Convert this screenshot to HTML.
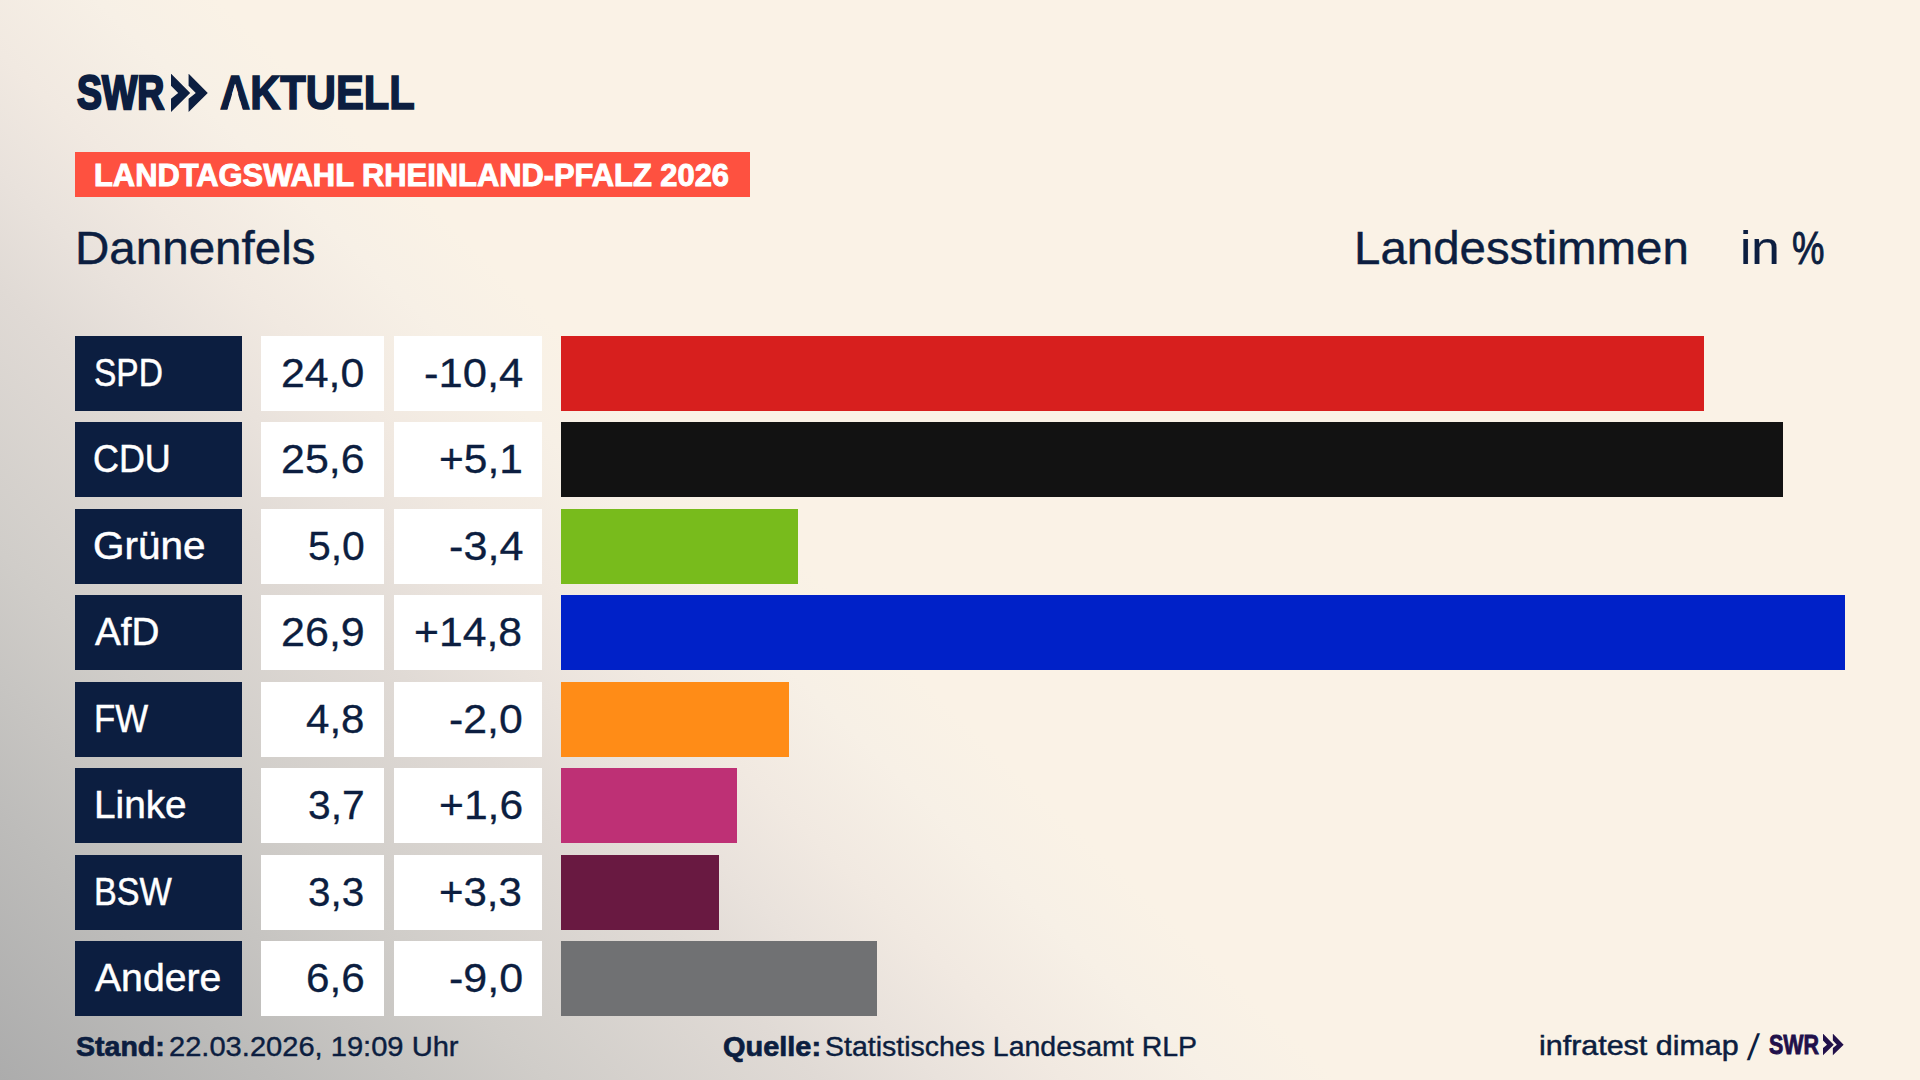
<!DOCTYPE html>
<html lang="de">
<head>
<meta charset="utf-8">
<title>SWR Aktuell – Landtagswahl Rheinland-Pfalz 2026 – Dannenfels</title>
<style>
html,body{margin:0;padding:0;}
body{width:1920px;height:1080px;overflow:hidden;position:relative;
  font-family:"Liberation Sans",sans-serif;color:#0c1e40;
  background:#faf2e6;}
#bg{position:absolute;left:0;top:0;width:1920px;height:1080px;
  background:linear-gradient(44deg,#acacac 0%,#bdbcba 9%,#d0cdc9 18%,#e0dad5 27%,#e9e2dc 31%,#f1e9e1 35%,#f7f0e6 40%,#faf2e6 44%,#faf2e6 100%);}
.t{position:absolute;white-space:nowrap;line-height:1;transform-origin:0 0;display:block;margin:0;font-weight:400;}
.box{position:absolute;}
.row{position:absolute;left:75px;width:1770px;height:75px;}
.cell{position:absolute;top:0;height:75px;}
.lab{left:0;width:167px;background:#0c1e40;}
.val{left:186px;width:123px;background:#fff;}
.dif{left:319px;width:148px;background:#fff;}
.bar{left:486px;}
</style>
</head>
<body>
<div id="bg"></div>

<header>
<div id="logo">
<span class="t" style="left:76.81px;top:67.60px;font-size:48.26px;transform:scaleX(0.7756);color:#0c1e40;font-weight:700;-webkit-text-stroke:2.4px #0c1e40;">SWR</span>
<svg class="box" style="left:171.1px;top:73.65px" width="37.8" height="38.0" viewBox="0 0 37.8 38.0"><path d="M0.00 0 L0.35 0 L19.19 19.00 L0.00 38.00 L0.00 24.78 L7.18 19.00 L0.00 11.78 Z M17.59 0 L17.94 0 L36.78 19.00 L17.59 38.00 L17.59 24.78 L24.78 19.00 L17.59 11.78 Z" fill="#0c1e40"/></svg>
<span class="t" style="left:219.75px;top:68.10px;font-size:48.11px;transform:scaleX(0.8680);color:#0c1e40;font-weight:700;-webkit-text-stroke:1.6px #0c1e40;clip-path:polygon(-3px -3px,400px -3px,400px 51.11px,27.04px 44.85px,17.37px 15.72px,7.64px 44.85px,-3px 51.11px);">AKTUELL</span>
</div>
<div class="box" id="banner" style="left:75px;top:152.3px;width:674.8px;height:44.3px;background:#fe5140"></div>
<h1 class="t" style="left:94.08px;top:159.50px;font-size:31.83px;transform:scaleX(0.9696);color:#fff;font-weight:700;-webkit-text-stroke:1.0px #fff;">LANDTAGSWAHL RHEINLAND-PFALZ 2026</h1>
<h2 class="t" style="left:75.20px;top:225.50px;font-size:45.4px;transform:scaleX(1.0476);color:#0c1e40;-webkit-text-stroke:0.4px #0c1e40;">Dannenfels</h2>
<span class="t" style="left:1354.16px;top:225.50px;font-size:45.4px;transform:scaleX(1.0450);color:#0c1e40;-webkit-text-stroke:0.4px #0c1e40;">Landesstimmen</span>
<span class="t" style="left:1739.78px;top:225.50px;font-size:45.4px;transform:scaleX(1.1278);color:#0c1e40;-webkit-text-stroke:0.2px #0c1e40;">in</span>
<span class="t" style="left:1792.18px;top:225.50px;font-size:45.4px;transform:scaleX(0.8039);color:#0c1e40;-webkit-text-stroke:0.9px #0c1e40;">%</span>
</header>
<main id="chart">
<div class="row" id="row1" style="top:336px">
<div class="cell lab"><span class="t" style="left:18.71px;top:18.30px;font-size:38.8px;transform:scaleX(0.8639);color:#fff;-webkit-text-stroke:0.5px #fff;">SPD</span></div>
<div class="cell val"><span class="t" style="left:20.32px;top:17.20px;font-size:40.1px;transform:scaleX(1.0683);color:#0c1e40;-webkit-text-stroke:0.3px #0c1e40;">24,0</span></div>
<div class="cell dif"><span class="t" style="left:29.50px;top:17.20px;font-size:40.1px;transform:scaleX(1.0866);color:#0c1e40;-webkit-text-stroke:0.3px #0c1e40;">-10,4</span></div>
<div class="cell bar" style="width:1142.7px;background:#d71f1e"></div>
</div>
<div class="row" id="row2" style="top:422px">
<div class="cell lab"><span class="t" style="left:18.44px;top:18.30px;font-size:38.8px;transform:scaleX(0.9253);color:#fff;-webkit-text-stroke:0.5px #fff;">CDU</span></div>
<div class="cell val"><span class="t" style="left:20.31px;top:17.20px;font-size:40.1px;transform:scaleX(1.0712);color:#0c1e40;-webkit-text-stroke:0.3px #0c1e40;">25,6</span></div>
<div class="cell dif"><span class="t" style="left:44.53px;top:17.20px;font-size:40.1px;transform:scaleX(1.0609);color:#0c1e40;-webkit-text-stroke:0.3px #0c1e40;">+5,1</span></div>
<div class="cell bar" style="width:1221.7px;background:#121212"></div>
</div>
<div class="row" id="row3" style="top:509px">
<div class="cell lab"><span class="t" style="left:18.24px;top:18.30px;font-size:38.8px;transform:scaleX(1.0432);color:#fff;-webkit-text-stroke:0.5px #fff;">Grüne</span></div>
<div class="cell val"><span class="t" style="left:46.72px;top:17.20px;font-size:40.1px;transform:scaleX(1.0201);color:#0c1e40;-webkit-text-stroke:0.3px #0c1e40;">5,0</span></div>
<div class="cell dif"><span class="t" style="left:54.52px;top:17.20px;font-size:40.1px;transform:scaleX(1.0775);color:#0c1e40;-webkit-text-stroke:0.3px #0c1e40;">-3,4</span></div>
<div class="cell bar" style="width:237.0px;background:#78bb1c"></div>
</div>
<div class="row" id="row4" style="top:595px">
<div class="cell lab"><span class="t" style="left:19.95px;top:18.30px;font-size:38.8px;transform:scaleX(0.9960);color:#fff;-webkit-text-stroke:0.5px #fff;">AfD</span></div>
<div class="cell val"><span class="t" style="left:20.31px;top:17.20px;font-size:40.1px;transform:scaleX(1.0740);color:#0c1e40;-webkit-text-stroke:0.3px #0c1e40;">26,9</span></div>
<div class="cell dif"><span class="t" style="left:19.82px;top:17.20px;font-size:40.1px;transform:scaleX(1.0658);color:#0c1e40;-webkit-text-stroke:0.3px #0c1e40;">+14,8</span></div>
<div class="cell bar" style="width:1283.7px;background:#0021c8"></div>
</div>
<div class="row" id="row5" style="top:682px">
<div class="cell lab"><span class="t" style="left:19.14px;top:18.30px;font-size:38.8px;transform:scaleX(0.8968);color:#fff;-webkit-text-stroke:0.5px #fff;">FW</span></div>
<div class="cell val"><span class="t" style="left:45.02px;top:17.20px;font-size:40.1px;transform:scaleX(1.0497);color:#0c1e40;-webkit-text-stroke:0.3px #0c1e40;">4,8</span></div>
<div class="cell dif"><span class="t" style="left:54.53px;top:17.20px;font-size:40.1px;transform:scaleX(1.0671);color:#0c1e40;-webkit-text-stroke:0.3px #0c1e40;">-2,0</span></div>
<div class="cell bar" style="width:228.0px;background:#ff8c17"></div>
</div>
<div class="row" id="row6" style="top:768px">
<div class="cell lab"><span class="t" style="left:18.85px;top:18.30px;font-size:38.8px;transform:scaleX(0.9991);color:#fff;-webkit-text-stroke:0.5px #fff;">Linke</span></div>
<div class="cell val"><span class="t" style="left:46.72px;top:17.20px;font-size:40.1px;transform:scaleX(1.0166);color:#0c1e40;-webkit-text-stroke:0.3px #0c1e40;">3,7</span></div>
<div class="cell dif"><span class="t" style="left:44.53px;top:17.20px;font-size:40.1px;transform:scaleX(1.0634);color:#0c1e40;-webkit-text-stroke:0.3px #0c1e40;">+1,6</span></div>
<div class="cell bar" style="width:176.0px;background:#be3075"></div>
</div>
<div class="row" id="row7" style="top:855px">
<div class="cell lab"><span class="t" style="left:19.18px;top:18.30px;font-size:38.8px;transform:scaleX(0.8813);color:#fff;-webkit-text-stroke:0.5px #fff;">BSW</span></div>
<div class="cell val"><span class="t" style="left:46.73px;top:17.20px;font-size:40.1px;transform:scaleX(1.0089);color:#0c1e40;-webkit-text-stroke:0.3px #0c1e40;">3,3</span></div>
<div class="cell dif"><span class="t" style="left:44.56px;top:17.20px;font-size:40.1px;transform:scaleX(1.0476);color:#0c1e40;-webkit-text-stroke:0.3px #0c1e40;">+3,3</span></div>
<div class="cell bar" style="width:158.0px;background:#691941"></div>
</div>
<div class="row" id="row8" style="top:941px">
<div class="cell lab"><span class="t" style="left:19.95px;top:18.30px;font-size:38.8px;transform:scaleX(1.0090);color:#fff;-webkit-text-stroke:0.5px #fff;">Andere</span></div>
<div class="cell val"><span class="t" style="left:45.04px;top:17.20px;font-size:40.1px;transform:scaleX(1.0547);color:#0c1e40;-webkit-text-stroke:0.3px #0c1e40;">6,6</span></div>
<div class="cell dif"><span class="t" style="left:54.52px;top:17.20px;font-size:40.1px;transform:scaleX(1.0732);color:#0c1e40;-webkit-text-stroke:0.3px #0c1e40;">-9,0</span></div>
<div class="cell bar" style="width:316.0px;background:#707173"></div>
</div>
</main>
<footer>
<span class="t" style="left:75.50px;top:1032.30px;font-size:28.2px;transform:scaleX(1.0121);color:#0c1e40;font-weight:700;-webkit-text-stroke:0.7px #0c1e40;">Stand:</span>
<span class="t" style="left:168.75px;top:1032.40px;font-size:28.2px;transform:scaleX(1.0320);color:#0c1e40;-webkit-text-stroke:0.4px #0c1e40;">22.03.2026, 19:09 Uhr</span>
<span class="t" style="left:722.95px;top:1032.30px;font-size:28.2px;transform:scaleX(1.0260);color:#0c1e40;font-weight:700;-webkit-text-stroke:0.7px #0c1e40;">Quelle:</span>
<span class="t" style="left:825.32px;top:1032.20px;font-size:28.2px;transform:scaleX(1.0105);color:#0c1e40;-webkit-text-stroke:0.4px #0c1e40;">Statistisches Landesamt RLP</span>
<span class="t" style="left:1538.90px;top:1032.30px;font-size:27.6px;transform:scaleX(1.1032);color:#0c1e40;-webkit-text-stroke:0.5px #0c1e40;">infratest dimap</span>
<span class="t" style="left:1746.30px;top:1029.20px;font-size:37.0px;transform:scaleX(0.9942);color:#0c1e40;transform:skewX(-6.3deg);transform-origin:0 100%;">/</span>
<span class="t" style="left:1769.31px;top:1031.35px;font-size:27.18px;transform:scaleX(0.7889);color:#21104a;font-weight:700;-webkit-text-stroke:0.9px #21104a;">SWR</span>
<svg class="box" style="left:1823.2px;top:1034.4px" width="21.6" height="21.3" viewBox="0 0 21.6 21.3"><path d="M0.00 0 L0.35 0 L10.76 10.65 L0.00 21.30 L0.00 13.89 L4.03 10.65 L0.00 6.60 Z M9.86 0 L10.21 0 L20.62 10.65 L9.86 21.30 L9.86 13.89 L13.89 10.65 L9.86 6.60 Z" fill="#21104a"/></svg>
</footer>
</body>
</html>
